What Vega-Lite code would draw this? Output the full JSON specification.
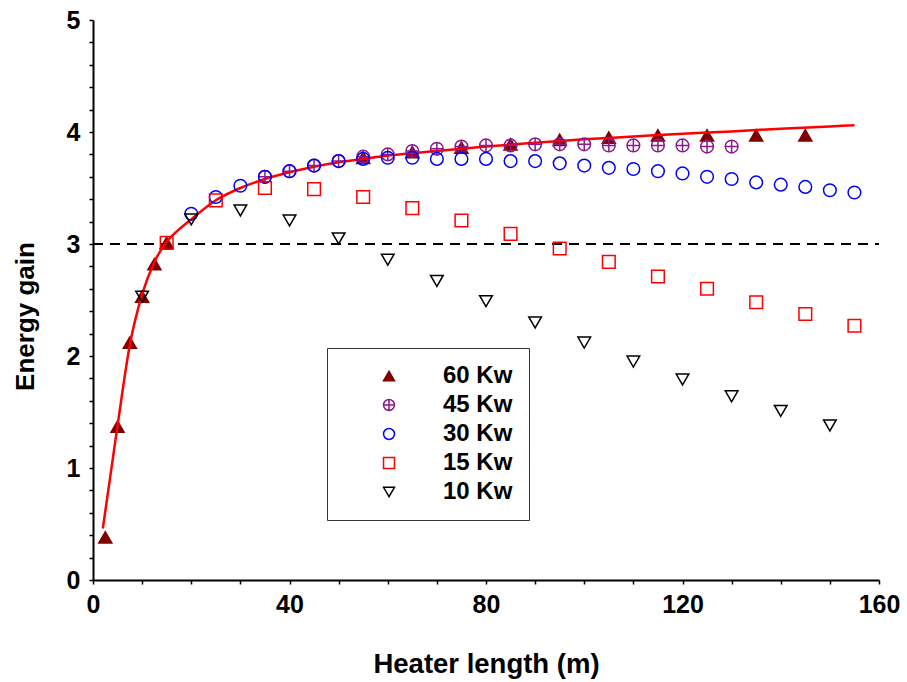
{
  "$schema": "https://vega.github.io/schema/vega-lite/v6.json",
  "width": 786,
  "height": 560,
  "autosize": {"type": "none"},
  "padding": {"left": 93, "top": 20, "right": 28, "bottom": 102},
  "background": "white",
  "config": {
    "view": {"stroke": null},
    "font": "Liberation Sans",
    "axis": {
      "domainColor": "black",
      "domainWidth": 2,
      "tickColor": "black",
      "tickWidth": 1.5,
      "tickSize": 4,
      "grid": false,
      "labelFont": "Liberation Sans",
      "labelFontWeight": "bold",
      "labelFontSize": 25,
      "labelColor": "black",
      "titleFont": "Liberation Sans",
      "titleFontWeight": "bold",
      "titleFontSize": 26,
      "titleColor": "black"
    }
  },
  "datasets": {
    "pts": [
      {"series": "60 Kw", "x": 2.5, "y": 0.38},
      {"series": "60 Kw", "x": 5, "y": 1.37},
      {"series": "60 Kw", "x": 7.5, "y": 2.12},
      {"series": "60 Kw", "x": 10, "y": 2.53},
      {"series": "60 Kw", "x": 12.5, "y": 2.82},
      {"series": "60 Kw", "x": 15, "y": 3.01},
      {"series": "60 Kw", "x": 55, "y": 3.77},
      {"series": "60 Kw", "x": 65, "y": 3.82},
      {"series": "60 Kw", "x": 75, "y": 3.86},
      {"series": "60 Kw", "x": 85, "y": 3.89},
      {"series": "60 Kw", "x": 95, "y": 3.93},
      {"series": "60 Kw", "x": 105, "y": 3.95},
      {"series": "60 Kw", "x": 115, "y": 3.97},
      {"series": "60 Kw", "x": 125, "y": 3.97},
      {"series": "60 Kw", "x": 135, "y": 3.97},
      {"series": "60 Kw", "x": 145, "y": 3.97},
      {"series": "45 Kw", "x": 35, "y": 3.6},
      {"series": "45 Kw", "x": 40, "y": 3.65},
      {"series": "45 Kw", "x": 45, "y": 3.7},
      {"series": "45 Kw", "x": 50, "y": 3.74},
      {"series": "45 Kw", "x": 55, "y": 3.78},
      {"series": "45 Kw", "x": 60, "y": 3.8},
      {"series": "45 Kw", "x": 65, "y": 3.83},
      {"series": "45 Kw", "x": 70, "y": 3.85},
      {"series": "45 Kw", "x": 75, "y": 3.87},
      {"series": "45 Kw", "x": 80, "y": 3.88},
      {"series": "45 Kw", "x": 85, "y": 3.88},
      {"series": "45 Kw", "x": 90, "y": 3.89},
      {"series": "45 Kw", "x": 95, "y": 3.89},
      {"series": "45 Kw", "x": 100, "y": 3.89},
      {"series": "45 Kw", "x": 105, "y": 3.88},
      {"series": "45 Kw", "x": 110, "y": 3.88},
      {"series": "45 Kw", "x": 115, "y": 3.88},
      {"series": "45 Kw", "x": 120, "y": 3.88},
      {"series": "45 Kw", "x": 125, "y": 3.87},
      {"series": "45 Kw", "x": 130, "y": 3.87},
      {"series": "30 Kw", "x": 20, "y": 3.27},
      {"series": "30 Kw", "x": 25, "y": 3.42},
      {"series": "30 Kw", "x": 30, "y": 3.52},
      {"series": "30 Kw", "x": 35, "y": 3.6},
      {"series": "30 Kw", "x": 40, "y": 3.65},
      {"series": "30 Kw", "x": 45, "y": 3.7},
      {"series": "30 Kw", "x": 50, "y": 3.74},
      {"series": "30 Kw", "x": 55, "y": 3.76},
      {"series": "30 Kw", "x": 60, "y": 3.77},
      {"series": "30 Kw", "x": 65, "y": 3.77},
      {"series": "30 Kw", "x": 70, "y": 3.76},
      {"series": "30 Kw", "x": 75, "y": 3.76},
      {"series": "30 Kw", "x": 80, "y": 3.76},
      {"series": "30 Kw", "x": 85, "y": 3.74},
      {"series": "30 Kw", "x": 90, "y": 3.74},
      {"series": "30 Kw", "x": 95, "y": 3.72},
      {"series": "30 Kw", "x": 100, "y": 3.7},
      {"series": "30 Kw", "x": 105, "y": 3.68},
      {"series": "30 Kw", "x": 110, "y": 3.67},
      {"series": "30 Kw", "x": 115, "y": 3.65},
      {"series": "30 Kw", "x": 120, "y": 3.63},
      {"series": "30 Kw", "x": 125, "y": 3.6},
      {"series": "30 Kw", "x": 130, "y": 3.58},
      {"series": "30 Kw", "x": 135, "y": 3.55},
      {"series": "30 Kw", "x": 140, "y": 3.53},
      {"series": "30 Kw", "x": 145, "y": 3.51},
      {"series": "30 Kw", "x": 150, "y": 3.48},
      {"series": "30 Kw", "x": 155, "y": 3.46},
      {"series": "15 Kw", "x": 15, "y": 3.01},
      {"series": "15 Kw", "x": 25, "y": 3.39},
      {"series": "15 Kw", "x": 35, "y": 3.5},
      {"series": "15 Kw", "x": 45, "y": 3.49},
      {"series": "15 Kw", "x": 55, "y": 3.42},
      {"series": "15 Kw", "x": 65, "y": 3.32},
      {"series": "15 Kw", "x": 75, "y": 3.21},
      {"series": "15 Kw", "x": 85, "y": 3.09},
      {"series": "15 Kw", "x": 95, "y": 2.96},
      {"series": "15 Kw", "x": 105, "y": 2.84},
      {"series": "15 Kw", "x": 115, "y": 2.71},
      {"series": "15 Kw", "x": 125, "y": 2.6},
      {"series": "15 Kw", "x": 135, "y": 2.48},
      {"series": "15 Kw", "x": 145, "y": 2.375},
      {"series": "15 Kw", "x": 155, "y": 2.27},
      {"series": "10 Kw", "x": 10, "y": 2.53},
      {"series": "10 Kw", "x": 20, "y": 3.22},
      {"series": "10 Kw", "x": 30, "y": 3.3},
      {"series": "10 Kw", "x": 40, "y": 3.21},
      {"series": "10 Kw", "x": 50, "y": 3.05},
      {"series": "10 Kw", "x": 60, "y": 2.86},
      {"series": "10 Kw", "x": 70, "y": 2.67},
      {"series": "10 Kw", "x": 80, "y": 2.49},
      {"series": "10 Kw", "x": 90, "y": 2.3},
      {"series": "10 Kw", "x": 100, "y": 2.12},
      {"series": "10 Kw", "x": 110, "y": 1.95},
      {"series": "10 Kw", "x": 120, "y": 1.79},
      {"series": "10 Kw", "x": 130, "y": 1.64},
      {"series": "10 Kw", "x": 140, "y": 1.51},
      {"series": "10 Kw", "x": 150, "y": 1.38}
    ],
    "fit": [
      {"x": 2, "y": 0.46},
      {"x": 5, "y": 1.38},
      {"x": 7.5, "y": 2.1},
      {"x": 10, "y": 2.55},
      {"x": 12.5, "y": 2.84},
      {"x": 15, "y": 3.02},
      {"x": 17.5, "y": 3.13},
      {"x": 20, "y": 3.22},
      {"x": 25, "y": 3.39},
      {"x": 30, "y": 3.5},
      {"x": 35, "y": 3.58},
      {"x": 40, "y": 3.64},
      {"x": 45, "y": 3.69},
      {"x": 50, "y": 3.73},
      {"x": 55, "y": 3.76},
      {"x": 60, "y": 3.79},
      {"x": 70, "y": 3.83},
      {"x": 80, "y": 3.87},
      {"x": 90, "y": 3.905},
      {"x": 100, "y": 3.935},
      {"x": 110, "y": 3.96},
      {"x": 120, "y": 3.985},
      {"x": 130, "y": 4.005},
      {"x": 140, "y": 4.03},
      {"x": 150, "y": 4.05},
      {"x": 155, "y": 4.06}
    ],
    "ref": [
      {"x": 0, "y": 3},
      {"x": 160, "y": 3}
    ]
  },
  "encoding": {
    "x": {
      "field": "x",
      "type": "quantitative",
      "scale": {"domain": [0, 160], "nice": false},
      "axis": {
        "title": "Heater length (m)",
        "titleFontSize": 27.5,
        "values": [0, 10, 20, 30, 40, 50, 60, 70, 80, 90, 100, 110, 120, 130, 140, 150, 160],
        "labelExpr": "datum.value % 40 === 0 ? datum.label : ''",
        "labelPadding": 8,
        "titleY": 84,
        "titleBaseline": "middle",
        "labelFlush": false,
        "labelOverlap": false
      }
    },
    "y": {
      "field": "y",
      "type": "quantitative",
      "scale": {"domain": [0, 5], "nice": false},
      "axis": {
        "title": "Energy gain",
        "values": [0, 0.2, 0.4, 0.6, 0.8, 1, 1.2, 1.4, 1.6, 1.8, 2, 2.2, 2.4, 2.6, 2.8, 3, 3.2, 3.4, 3.6, 3.8, 4, 4.2, 4.4, 4.6, 4.8, 5],
        "labelExpr": "abs(datum.value - round(datum.value)) < 0.001 ? format(datum.value, 'd') : ''",
        "labelPadding": 9,
        "titleX": -68,
        "titleY": 296,
        "titleBaseline": "middle",
        "labelFlush": false,
        "labelOverlap": false
      }
    }
  },
  "layer": [
    {
      "data": {"name": "ref"},
      "mark": {"type": "line", "color": "black", "strokeWidth": 2, "strokeDash": [10, 7]},
      "encoding": {}
    },
    {
      "data": {"name": "pts"},
      "transform": [{"filter": "datum.series === '60 Kw'"}],
      "mark": {"type": "point", "opacity": 1, "strokeWidth": 1.5, "size": 170},
      "encoding": {
        "shape": {"field": "series", "type": "nominal", "sort": null,
          "scale": {"domain": ["60 Kw", "45 Kw", "30 Kw", "15 Kw", "10 Kw"],
            "range": ["triangle-up", "M-1,0A1,1,0,1,1,1,0A1,1,0,1,1,-1,0ZM-1,0L1,0M0,-1L0,1", "circle", "square", "triangle-down"]}},
        "stroke": {"field": "series", "type": "nominal", "sort": null,
          "scale": {"domain": ["60 Kw", "45 Kw", "30 Kw", "15 Kw", "10 Kw"],
            "range": ["#800000", "#8b1a8b", "#0000ff", "#ff0000", "#000000"]}},
        "fill": {"field": "series", "type": "nominal", "sort": null,
          "scale": {"domain": ["60 Kw", "45 Kw", "30 Kw", "15 Kw", "10 Kw"],
            "range": ["#800000", "transparent", "transparent", "transparent", "transparent"]},
          "legend": {
            "orient": "none",
            "legendX": 234,
            "legendY": 328,
            "title": null,
            "padding": 16,
            "symbolOffset": 34,
            "labelOffset": 42,
            "rowPadding": 5,
            "labelFont": "Liberation Sans",
            "labelFontSize": 24,
            "labelFontWeight": "bold",
            "labelColor": "black",
            "symbolSize": 120,
            "symbolStrokeWidth": 1.5,
            "strokeColor": "#333333",
            "fillColor": "white",
            "labelLimit": 200
          }}
      }
    },
    {
      "data": {"name": "fit"},
      "mark": {"type": "line", "color": "#ff0000", "strokeWidth": 2.5, "interpolate": "monotone"},
      "encoding": {}
    },
    {
      "data": {"name": "pts"},
      "transform": [{"filter": "datum.series !== '60 Kw'"}],
      "mark": {"type": "point", "opacity": 1, "strokeWidth": 1.5, "size": 160},
      "encoding": {
        "shape": {"field": "series", "type": "nominal", "sort": null},
        "stroke": {"field": "series", "type": "nominal", "sort": null},
        "fill": {"field": "series", "type": "nominal", "sort": null}
      }
    }
  ]
}
